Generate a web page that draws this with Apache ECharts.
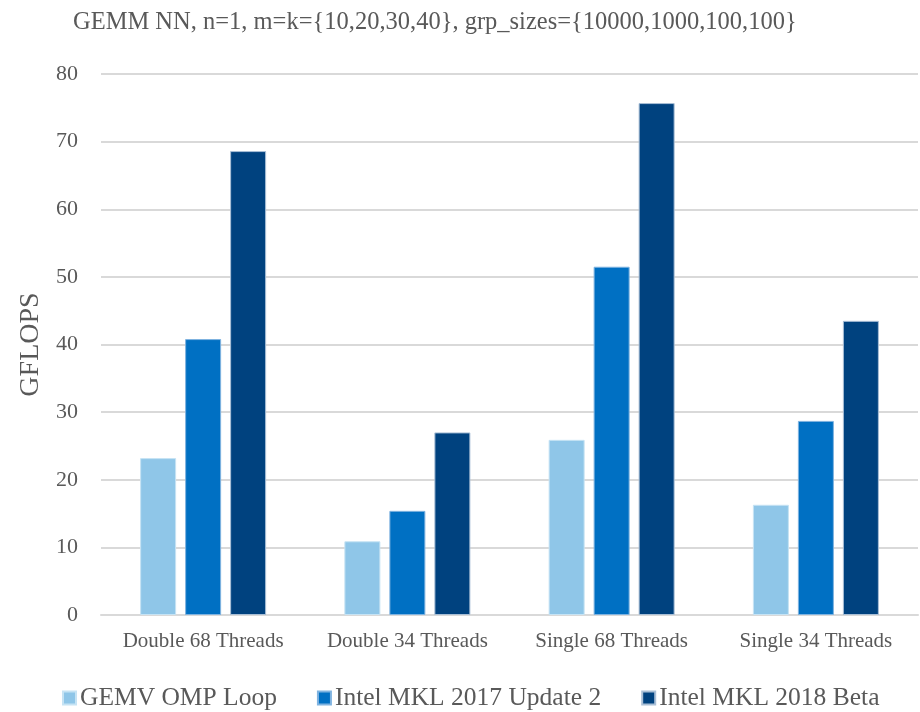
<!DOCTYPE html>
<html>
<head>
<meta charset="utf-8">
<script src="https://cdn.jsdelivr.net/npm/echarts@6/dist/echarts.min.js"></script>
<style>
  html, body { margin: 0; padding: 0; background: #fff; }
  #chart { width: 920px; height: 712px; }
</style>
</head>
<body>
<div id="chart"></div>
<script>
// Benchmark configurations along the x axis
const categories = ['Double 68 Threads', 'Double 34 Threads', 'Single 68 Threads', 'Single 34 Threads'];
// GFLOPS per implementation
const gemvOmpLoop = [23.2, 10.9, 25.9, 16.3];
const mkl2017u2 = [40.8, 15.4, 51.5, 28.7];
const mkl2018Beta = [68.6, 27.0, 75.7, 43.5];
const seriesNames = ['GEMV OMP Loop', 'Intel MKL 2017 Update 2', 'Intel MKL 2018 Beta'];
const yTicks = { min: 0, max: 80, interval: 10 };

const colors = ['#8FC6E8', '#0070C3', '#00427F'];
const serif = '"Liberation Serif", "DejaVu Serif", serif';
const textColor = '#595959';

const chart = echarts.init(document.getElementById('chart'), null, { renderer: 'canvas' });

function barSeries(name, data, color, border) {
  return {
    name: name,
    type: 'bar',
    data: data,
    barWidth: 36,
    barGap: '25%',
    itemStyle: { color: color, borderColor: border, borderWidth: 1 },
    emphasis: { disabled: true }
  };
}

chart.setOption({
  animation: false,
  title: {
    text: 'GEMM NN, n=1, m=k={10,20,30,40}, grp_sizes={10000,1000,100,100}',
    left: 68,
    top: 5,
    textStyle: { fontFamily: serif, fontSize: 24.5, fontWeight: 'normal', color: textColor }
  },
  legend: {
    top: 685,
    left: 62,
    padding: 0,
    itemWidth: 13,
    itemHeight: 13,
    itemGap: 40,
    icon: 'rect',
    textStyle: { fontFamily: serif, fontSize: 25.5, color: textColor, padding: [0, 0, 0, -1] },
    data: seriesNames
  },
  grid: { left: 101, right: 2, top: 74, bottom: 97, containLabel: false },
  xAxis: {
    type: 'category',
    data: categories,
    axisLine: { show: true, lineStyle: { color: '#D9D9D9', width: 2 } },
    axisTick: { show: false },
    axisLabel: { interval: 0, fontFamily: serif, fontSize: 21, color: textColor, margin: 16 }
  },
  yAxis: {
    type: 'value',
    min: yTicks.min,
    max: yTicks.max,
    interval: yTicks.interval,
    name: 'GFLOPS',
    nameLocation: 'middle',
    nameGap: 56,
    nameTextStyle: { fontFamily: serif, fontSize: 28, color: textColor },
    axisLine: { show: false },
    axisTick: { show: false },
    axisLabel: { fontFamily: serif, fontSize: 22, color: textColor, margin: 23 },
    splitLine: { lineStyle: { color: '#D9D9D9', width: 2 } }
  },
  series: [
    barSeries(seriesNames[0], gemvOmpLoop, colors[0], '#C6E3F4'),
    barSeries(seriesNames[1], mkl2017u2, colors[1], '#7FB3E0'),
    barSeries(seriesNames[2], mkl2018Beta, colors[2], '#A9BFD6')
  ]
});
</script>
</body>
</html>
